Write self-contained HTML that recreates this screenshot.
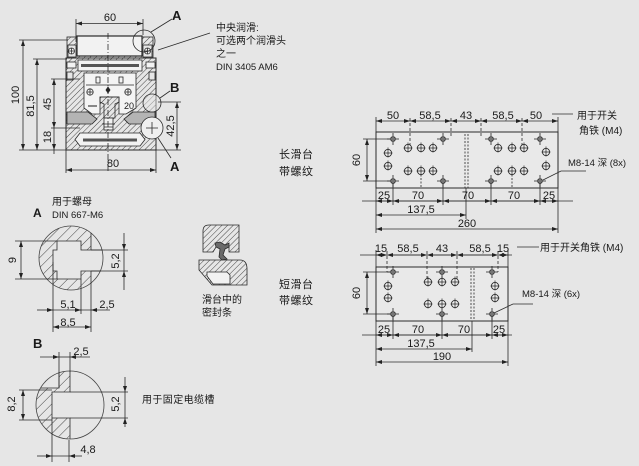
<!DOCTYPE html>
<html><head><meta charset="utf-8"><style>
html,body{margin:0;padding:0;background:#e6e6e6;}
svg{display:block;}
text{font-family:"Liberation Sans","Noto Sans CJK SC",sans-serif;fill:#1a1a1a;}
.d{font-size:11px;}
.c{font-size:10px;}
.b{font-size:13px;font-weight:bold;}
</style></head><body>
<svg width="639" height="466" viewBox="0 0 639 466" xmlns="http://www.w3.org/2000/svg">
<defs>
<pattern id="hf" width="4" height="4" patternUnits="userSpaceOnUse" patternTransform="rotate(45)"><rect width="4" height="4" fill="#e6e6e6"/><line x1="0" y1="0" x2="0" y2="4" stroke="#333" stroke-width="0.9"/></pattern>
<pattern id="hc" width="7" height="7" patternUnits="userSpaceOnUse" patternTransform="rotate(45)"><rect width="7" height="7" fill="#e6e6e6"/><line x1="0" y1="0" x2="0" y2="7" stroke="#333" stroke-width="0.9"/></pattern>
<marker id="ar" viewBox="0 0 6 4" refX="6" refY="2" markerWidth="6" markerHeight="4" markerUnits="userSpaceOnUse" orient="auto-start-reverse"><path d="M0,0L6,2L0,4z" fill="#222"/></marker>
<g id="sh"><circle r="2.4" fill="#777" stroke="#222" stroke-width="0.8"/><path d="M-6,0h3M3,0h3M0,-6v3M0,3v3" stroke="#222" stroke-width="0.8"/></g>
<g id="bh"><circle r="3.6" fill="#efefef" stroke="#222" stroke-width="0.8"/><path d="M-4.5,0h9M0,-5.5v10" stroke="#222" stroke-width="0.7"/></g>
<clipPath id="ca"><circle cx="71" cy="258" r="32"/></clipPath>
<clipPath id="cb"><circle cx="70" cy="405" r="34"/></clipPath>
</defs>
<rect width="639" height="466" fill="#e6e6e6"/>

<!-- ===== MAIN CROSS SECTION ===== -->
<g stroke="#2a2a2a" stroke-width="0.8" fill="none">
<!-- carriage top -->
<rect x="67" y="37" width="86" height="21" fill="url(#hf)"/>
<rect x="77" y="36" width="65" height="20" fill="#f2f2f2" stroke-width="1.2"/>
<rect x="68" y="45" width="8" height="12" fill="#e6e6e6"/>
<rect x="143" y="45" width="9" height="12" fill="#e6e6e6"/>
<circle cx="71.5" cy="51" r="3" fill="#f2f2f2"/><path d="M68.5,51h6M71.5,48v6"/>
<circle cx="147.5" cy="51" r="3" fill="#f2f2f2"/><path d="M144.5,51h6M147.5,48v6"/>
<!-- profile body -->
<rect x="66" y="58" width="90" height="92" fill="url(#hf)"/>
<rect x="78" y="60" width="64" height="11" fill="#f2f2f2"/>
<rect x="81" y="64" width="58" height="3" fill="#555" stroke="none"/>
<rect x="67" y="62" width="9" height="6" fill="#f2f2f2"/>
<rect x="146" y="62" width="9" height="6" fill="#f2f2f2"/>
<rect x="67" y="72" width="6" height="8" fill="#e6e6e6"/>
<rect x="149" y="72" width="6" height="8" fill="#e6e6e6"/>
<!-- carriage body inside -->
<polygon points="84,73 136,73 136,108 126,114 119,114 119,97 100,97 100,114 92,114 84,108" fill="#f4f4f4"/>
<rect x="96" y="77" width="4" height="6" fill="#f4f4f4"/>
<rect x="119" y="77" width="4" height="6" fill="#f4f4f4"/>
<line x1="86" y1="85" x2="134" y2="85"/>
<circle cx="90" cy="92" r="3.2" fill="#f4f4f4"/><path d="M87,92h6M90,89v6"/>
<circle cx="128" cy="92" r="3.2" fill="#f4f4f4"/><path d="M125,92h6M128,89v6"/>
<path d="M108,87l2,3l-2,3l-2,-3z" fill="#222"/>
<text x="124" y="109" style="font-size:9px" stroke="none">20</text>
<rect x="88" y="105" width="9" height="2" fill="#888" stroke="none"/>
<!-- T rail outline -->
<path d="M100,97 L119,97 L119,102 L115,104 L115,118 L104,118 L104,104 L100,102 Z"/>
<!-- gray chambers -->
<polygon points="67,112 88,112 97,119 92,124 67,124" fill="#b4b4b4"/>
<polygon points="155,112 133,112 124,119 129,124 155,124" fill="#b4b4b4"/>
<!-- middle screw -->
<rect x="104" y="118" width="9" height="12" fill="#f2f2f2"/>
<path d="M102,124h13M104,127h9"/>
<!-- bottom slot -->
<polygon points="80,133 140,133 145,139.5 140,146 80,146 75,139.5" fill="#f2f2f2"/>
<rect x="83" y="138.5" width="54" height="3" fill="#555" stroke="none"/>
<!-- outer outline -->
<rect x="66" y="58" width="90" height="92" stroke-width="1"/>
<!-- detail circles -->
<circle cx="144" cy="41" r="11"/>
<circle cx="152" cy="103" r="9" fill="#e6e6e6" fill-opacity="0.5"/>
<circle cx="152" cy="128" r="11" fill="#efefef"/>
<path d="M146,128h12M152,122v12"/>
<!-- leaders -->
<line x1="151" y1="32" x2="172" y2="19"/>
<line x1="158" y1="50" x2="210" y2="33"/>
<line x1="160" y1="98" x2="170" y2="91"/>
<line x1="158" y1="138" x2="171" y2="158"/>
<!-- centre line -->
<line x1="108" y1="33" x2="108" y2="173" stroke-dasharray="6,2,1,2"/>
<!-- extension lines -->
<line x1="76" y1="19" x2="76" y2="42"/>
<line x1="143" y1="19" x2="143" y2="35"/>
<line x1="19" y1="40" x2="68" y2="40"/>
<line x1="19" y1="150" x2="66" y2="150"/>
<line x1="33" y1="59" x2="67" y2="59"/>
<line x1="51" y1="79" x2="80" y2="79"/>
<line x1="51" y1="128" x2="80" y2="128"/>
<line x1="158" y1="102" x2="181" y2="102"/>
<line x1="156" y1="150" x2="181" y2="150"/>
<line x1="66" y1="150" x2="66" y2="173"/>
<line x1="156" y1="150" x2="156" y2="173"/>
<!-- dimension lines -->
<line x1="76" y1="23.5" x2="143" y2="23.5" marker-start="url(#ar)" marker-end="url(#ar)"/>
<line x1="23" y1="40" x2="23" y2="150" marker-start="url(#ar)" marker-end="url(#ar)"/>
<line x1="37" y1="59" x2="37" y2="150" marker-start="url(#ar)" marker-end="url(#ar)"/>
<line x1="54" y1="79" x2="54" y2="128" marker-start="url(#ar)" marker-end="url(#ar)"/>
<line x1="54" y1="128" x2="54" y2="150" marker-end="url(#ar)"/>
<line x1="54" y1="150" x2="54" y2="154"/>
<line x1="177" y1="102" x2="177" y2="150" marker-start="url(#ar)" marker-end="url(#ar)"/>
<line x1="66" y1="170" x2="156" y2="170" marker-start="url(#ar)" marker-end="url(#ar)"/>
</g>
<text class="d" x="110" y="21" text-anchor="middle">60</text>
<text class="d" x="113" y="167" text-anchor="middle">80</text>
<text class="d" transform="translate(16,95) rotate(-90)" text-anchor="middle" dominant-baseline="central">100</text>
<text class="d" transform="translate(31,106) rotate(-90)" text-anchor="middle" dominant-baseline="central">81,5</text>
<text class="d" transform="translate(48,104) rotate(-90)" text-anchor="middle" dominant-baseline="central">45</text>
<text class="d" transform="translate(48,137) rotate(-90)" text-anchor="middle" dominant-baseline="central">18</text>
<text class="d" transform="translate(171,126) rotate(-90)" text-anchor="middle" dominant-baseline="central">42,5</text>
<text class="b" x="172" y="20">A</text>
<text class="b" x="170" y="92">B</text>
<text class="b" x="170" y="171">A</text>
<text class="c" x="216" y="31">中央润滑:</text>
<text class="c" x="216" y="44">可选两个润滑头</text>
<text class="c" x="216" y="57">之一</text>
<text class="c" x="216" y="70" style="font-size:9.5px">DIN 3405 AM6</text>

<!-- ===== LONG PLATE ===== -->
<text class="c" x="279" y="158" style="font-size:11px;letter-spacing:0.5px">长滑台</text>
<text class="c" x="279" y="175" style="font-size:11px;letter-spacing:0.5px">带螺纹</text>
<g stroke="#2a2a2a" stroke-width="0.8" fill="none">
<rect x="376" y="132" width="182" height="56" fill="#e9e9e9" stroke-width="1"/>
<!-- top ext + dims -->
<line x1="376" y1="117" x2="376" y2="132"/>
<line x1="558" y1="117" x2="558" y2="132"/>
<line x1="410" y1="118" x2="410" y2="146" stroke-dasharray="3,2"/>
<line x1="451" y1="118" x2="451" y2="136" stroke-dasharray="3,2"/>
<line x1="481" y1="118" x2="481" y2="136" stroke-dasharray="3,2"/>
<line x1="522" y1="118" x2="522" y2="146" stroke-dasharray="3,2"/>
<line x1="376" y1="121" x2="410" y2="121" marker-start="url(#ar)" marker-end="url(#ar)"/>
<line x1="410" y1="121" x2="451" y2="121" marker-start="url(#ar)" marker-end="url(#ar)"/>
<line x1="451" y1="121" x2="481" y2="121" marker-start="url(#ar)" marker-end="url(#ar)"/>
<line x1="481" y1="121" x2="522" y2="121" marker-start="url(#ar)" marker-end="url(#ar)"/>
<line x1="522" y1="121" x2="558" y2="121" marker-start="url(#ar)" marker-end="url(#ar)"/>
<line x1="552" y1="114" x2="573" y2="114"/>
<!-- centre dashed -->
<line x1="465" y1="134" x2="465" y2="188" stroke-dasharray="2,1.5"/>
<line x1="468" y1="134" x2="468" y2="188" stroke-dasharray="2,1.5"/>
<!-- 60 vertical -->
<line x1="363" y1="139" x2="390" y2="139"/>
<line x1="363" y1="181" x2="390" y2="181"/>
<line x1="367" y1="139" x2="367" y2="181" marker-start="url(#ar)" marker-end="url(#ar)"/>
<!-- bottom ext -->
<line x1="376" y1="188" x2="376" y2="233"/>
<line x1="558" y1="188" x2="558" y2="233"/>
<line x1="393" y1="181" x2="393" y2="205"/>
<line x1="443" y1="181" x2="443" y2="205"/>
<line x1="491" y1="181" x2="491" y2="205"/>
<line x1="540" y1="181" x2="540" y2="205"/>
<line x1="466" y1="188" x2="466" y2="219"/>
<line x1="421" y1="171" x2="421" y2="188" stroke-dasharray="2,1.5"/>
<line x1="512" y1="171" x2="512" y2="188" stroke-dasharray="2,1.5"/>
<line x1="362" y1="201" x2="573" y2="201"/>
<line x1="376" y1="201" x2="393" y2="201" marker-start="url(#ar)" marker-end="url(#ar)"/>
<line x1="393" y1="201" x2="443" y2="201" marker-start="url(#ar)" marker-end="url(#ar)"/>
<line x1="443" y1="201" x2="491" y2="201" marker-start="url(#ar)" marker-end="url(#ar)"/>
<line x1="491" y1="201" x2="540" y2="201" marker-start="url(#ar)" marker-end="url(#ar)"/>
<line x1="540" y1="201" x2="558" y2="201" marker-start="url(#ar)" marker-end="url(#ar)"/>
<line x1="376" y1="215" x2="466" y2="215" marker-start="url(#ar)" marker-end="url(#ar)"/>
<line x1="376" y1="229" x2="558" y2="229" marker-start="url(#ar)" marker-end="url(#ar)"/>
<!-- leader M8 -->
<polyline points="543,180 561,171 586,171"/>
</g>
<use href="#sh" x="393" y="139"/><use href="#sh" x="393" y="181"/>
<use href="#sh" x="443" y="139"/><use href="#sh" x="443" y="181"/>
<use href="#sh" x="491" y="139"/><use href="#sh" x="491" y="181"/>
<use href="#sh" x="540" y="139"/><use href="#sh" x="540" y="181"/>
<use href="#bh" x="388" y="153"/><use href="#bh" x="388" y="166"/>
<use href="#bh" x="408" y="148"/><use href="#bh" x="421" y="148"/><use href="#bh" x="433" y="148"/>
<use href="#bh" x="408" y="171"/><use href="#bh" x="421" y="171"/><use href="#bh" x="433" y="171"/>
<use href="#bh" x="498" y="148"/><use href="#bh" x="512" y="148"/><use href="#bh" x="524" y="148"/>
<use href="#bh" x="498" y="171"/><use href="#bh" x="512" y="171"/><use href="#bh" x="524" y="171"/>
<use href="#bh" x="546" y="152"/><use href="#bh" x="546" y="166"/>
<text class="d" x="393" y="119" text-anchor="middle">50</text>
<text class="d" x="430" y="119" text-anchor="middle">58,5</text>
<text class="d" x="466" y="119" text-anchor="middle">43</text>
<text class="d" x="503" y="119" text-anchor="middle">58,5</text>
<text class="d" x="536" y="119" text-anchor="middle">50</text>
<text class="d" x="384" y="199" text-anchor="middle">25</text>
<text class="d" x="418" y="199" text-anchor="middle">70</text>
<text class="d" x="468" y="199" text-anchor="middle">70</text>
<text class="d" x="514" y="199" text-anchor="middle">70</text>
<text class="d" x="549" y="199" text-anchor="middle">25</text>
<text class="d" x="421" y="213" text-anchor="middle">137,5</text>
<text class="d" x="467" y="227" text-anchor="middle">260</text>
<text class="d" transform="translate(357,160) rotate(-90)" text-anchor="middle" dominant-baseline="central">60</text>
<text class="c" x="577" y="119">用于开关</text>
<text class="c" x="579" y="134">角铁 (M4)</text>
<text class="c" x="568" y="166" style="font-size:9.5px">M8-14 深 (8x)</text>

<!-- ===== SHORT PLATE ===== -->
<text class="c" x="279" y="288" style="font-size:11px;letter-spacing:0.5px">短滑台</text>
<text class="c" x="279" y="304" style="font-size:11px;letter-spacing:0.5px">带螺纹</text>
<g stroke="#2a2a2a" stroke-width="0.8" fill="none">
<rect x="376" y="267" width="132" height="54" fill="#e9e9e9" stroke-width="1"/>
<line x1="376" y1="250" x2="376" y2="267"/>
<line x1="508" y1="250" x2="508" y2="267"/>
<line x1="387" y1="251" x2="387" y2="272" stroke-dasharray="3,2"/>
<line x1="427" y1="251" x2="427" y2="282" stroke-dasharray="3,2"/>
<line x1="457" y1="251" x2="457" y2="282" stroke-dasharray="3,2"/>
<line x1="498" y1="251" x2="498" y2="272" stroke-dasharray="3,2"/>
<line x1="360" y1="255" x2="512" y2="255"/>
<line x1="376" y1="255" x2="387" y2="255" marker-start="url(#ar)" marker-end="url(#ar)"/>
<line x1="387" y1="255" x2="427" y2="255" marker-start="url(#ar)" marker-end="url(#ar)"/>
<line x1="427" y1="255" x2="457" y2="255" marker-start="url(#ar)" marker-end="url(#ar)"/>
<line x1="457" y1="255" x2="498" y2="255" marker-start="url(#ar)" marker-end="url(#ar)"/>
<line x1="498" y1="255" x2="508" y2="255" marker-start="url(#ar)" marker-end="url(#ar)"/>
<line x1="517" y1="247" x2="539" y2="247"/>
<line x1="471" y1="268" x2="471" y2="321" stroke-dasharray="2,1.5"/>
<line x1="474" y1="268" x2="474" y2="321" stroke-dasharray="2,1.5"/>
<line x1="363" y1="272" x2="390" y2="272"/>
<line x1="363" y1="314" x2="390" y2="314"/>
<line x1="367" y1="272" x2="367" y2="314" marker-start="url(#ar)" marker-end="url(#ar)"/>
<line x1="376" y1="321" x2="376" y2="366"/>
<line x1="508" y1="321" x2="508" y2="366"/>
<line x1="393" y1="314" x2="393" y2="339"/>
<line x1="442" y1="314" x2="442" y2="339"/>
<line x1="492" y1="314" x2="492" y2="339"/>
<line x1="472" y1="321" x2="472" y2="352"/>
<line x1="362" y1="335" x2="512" y2="335"/>
<line x1="376" y1="335" x2="393" y2="335" marker-start="url(#ar)" marker-end="url(#ar)"/>
<line x1="393" y1="335" x2="442" y2="335" marker-start="url(#ar)" marker-end="url(#ar)"/>
<line x1="442" y1="335" x2="492" y2="335" marker-start="url(#ar)" marker-end="url(#ar)"/>
<line x1="492" y1="335" x2="508" y2="335" marker-start="url(#ar)" marker-end="url(#ar)"/>
<line x1="376" y1="349" x2="472" y2="349" marker-start="url(#ar)" marker-end="url(#ar)"/>
<line x1="376" y1="362" x2="508" y2="362" marker-start="url(#ar)" marker-end="url(#ar)"/>
<polyline points="494,313 513,304 533,304"/>
</g>
<use href="#sh" x="393" y="272"/><use href="#sh" x="393" y="314"/>
<use href="#sh" x="442" y="272"/><use href="#sh" x="442" y="314"/>
<use href="#sh" x="492" y="272"/><use href="#sh" x="492" y="314"/>
<use href="#bh" x="388" y="286"/><use href="#bh" x="388" y="298"/>
<use href="#bh" x="428" y="282"/><use href="#bh" x="442" y="282"/><use href="#bh" x="455" y="282"/>
<use href="#bh" x="428" y="304"/><use href="#bh" x="442" y="304"/><use href="#bh" x="455" y="304"/>
<use href="#bh" x="495" y="286"/><use href="#bh" x="495" y="298"/>
<text class="d" x="381" y="252" text-anchor="middle">15</text>
<text class="d" x="408" y="252" text-anchor="middle">58,5</text>
<text class="d" x="442" y="252" text-anchor="middle">43</text>
<text class="d" x="480" y="252" text-anchor="middle">58,5</text>
<text class="d" x="503" y="252" text-anchor="middle">15</text>
<text class="d" x="384" y="333" text-anchor="middle">25</text>
<text class="d" x="418" y="333" text-anchor="middle">70</text>
<text class="d" x="464" y="333" text-anchor="middle">70</text>
<text class="d" x="499" y="333" text-anchor="middle">25</text>
<text class="d" x="421" y="347" text-anchor="middle">137,5</text>
<text class="d" x="442" y="360" text-anchor="middle">190</text>
<text class="d" transform="translate(357,293) rotate(-90)" text-anchor="middle" dominant-baseline="central">60</text>
<text class="c" x="540" y="251">用于开关角铁 (M4)</text>
<text class="c" x="522" y="297" style="font-size:9.5px">M8-14 深 (6x)</text>

<!-- ===== SEAL DETAIL ===== -->
<g stroke="#2a2a2a" stroke-width="0.8">
<path d="M203,231 Q203,225 209,225 L239,225 L239,252 L229,252 L229,247 L216,247 L213,252 L203,252 Z" fill="url(#hf)"/>
<path d="M199,260 L240,260 Q247,260 247,269 L247,285 L212,285 L199,270 Z" fill="url(#hf)"/>
<polygon points="207,272 227,272 230,275 230,284 213,284 207,276" fill="#f2f2f2"/>
<polygon points="215,243 220,242 225,245 229,243 229,247 225,249 223,255 227,259 222,260 219,257 220,249 216,247" fill="#6a6a6a"/>
</g>
<text class="c" x="202" y="303">滑台中的</text>
<text class="c" x="202" y="316">密封条</text>

<!-- ===== DETAIL A ===== -->
<text class="b" x="33" y="217" style="font-size:12px">A</text>
<text class="c" x="52" y="205">用于螺母</text>
<text class="c" x="52" y="218" style="font-size:9.5px">DIN 667-M6</text>
<g stroke="#2a2a2a" stroke-width="0.8" fill="none">
<g clip-path="url(#ca)">
<rect x="30" y="220" width="61" height="80" fill="url(#hc)" stroke="none"/>
<polygon points="57,241 81,241 81,250 105,250 105,271 81,271 81,279 57,279 57,271 53,271 53,250 57,250" fill="#e6e6e6"/>
</g>
<circle cx="71" cy="258" r="32" stroke="#444"/>
<line x1="91" y1="233" x2="91" y2="250"/>
<line x1="91" y1="271" x2="91" y2="283"/>
<!-- 9 -->
<line x1="15" y1="241" x2="57" y2="241"/>
<line x1="15" y1="279" x2="57" y2="279"/>
<line x1="21" y1="241" x2="21" y2="279" marker-start="url(#ar)" marker-end="url(#ar)"/>
<!-- 5,2 -->
<line x1="91" y1="250" x2="128" y2="250"/>
<line x1="91" y1="271" x2="128" y2="271"/>
<line x1="124" y1="233" x2="124" y2="250" marker-end="url(#ar)"/>
<line x1="124" y1="290" x2="124" y2="271" marker-end="url(#ar)"/>
<line x1="124" y1="250" x2="124" y2="271"/>
<!-- horizontal dims -->
<line x1="53" y1="262" x2="53" y2="332"/>
<line x1="81" y1="279" x2="81" y2="314"/>
<line x1="91" y1="283" x2="91" y2="332"/>
<line x1="37" y1="310" x2="53" y2="310" marker-end="url(#ar)"/>
<line x1="53" y1="310" x2="91" y2="310"/>
<line x1="110" y1="310" x2="91" y2="310" marker-end="url(#ar)"/>
<line x1="75" y1="310" x2="81" y2="310" marker-end="url(#ar)"/>
<line x1="53" y1="327" x2="91" y2="327" marker-start="url(#ar)" marker-end="url(#ar)"/>
</g>
<text class="d" transform="translate(13,260) rotate(-90)" text-anchor="middle" dominant-baseline="central">9</text>
<text class="d" transform="translate(116,261) rotate(-90)" text-anchor="middle" dominant-baseline="central">5,2</text>
<text class="d" x="68" y="308" text-anchor="middle">5,1</text>
<text class="d" x="107" y="308" text-anchor="middle">2,5</text>
<text class="d" x="68" y="326" text-anchor="middle">8,5</text>

<!-- ===== DETAIL B ===== -->
<text class="b" x="33" y="348">B</text>
<g stroke="#2a2a2a" stroke-width="0.8" fill="none">
<g clip-path="url(#cb)">
<path d="M59,368 L70,368 L70,392 L52,392 L52,418 L70,418 L70,442 L34,442 L34,388 L59,388 Z" fill="url(#hc)"/>
</g>
<circle cx="70" cy="405" r="34" stroke="#444"/>
<!-- 2,5 -->
<line x1="59" y1="352" x2="59" y2="388"/>
<line x1="70" y1="352" x2="70" y2="372"/>
<line x1="40" y1="357" x2="59" y2="357" marker-end="url(#ar)"/>
<line x1="59" y1="357" x2="70" y2="357"/>
<line x1="90" y1="357" x2="70" y2="357" marker-end="url(#ar)"/>
<!-- 8,2 -->
<line x1="19" y1="390" x2="52" y2="390"/>
<line x1="19" y1="420" x2="52" y2="420"/>
<line x1="23" y1="390" x2="23" y2="420" marker-start="url(#ar)" marker-end="url(#ar)"/>
<!-- 5,2 -->
<line x1="70" y1="392" x2="128" y2="392"/>
<line x1="70" y1="418" x2="128" y2="418"/>
<line x1="125" y1="377" x2="125" y2="392" marker-end="url(#ar)"/>
<line x1="125" y1="427" x2="125" y2="418" marker-end="url(#ar)"/>
<line x1="125" y1="392" x2="125" y2="418"/>
<!-- 4,8 -->
<line x1="52" y1="418" x2="52" y2="462"/>
<line x1="69" y1="440" x2="69" y2="462"/>
<line x1="37" y1="456" x2="52" y2="456" marker-end="url(#ar)"/>
<line x1="52" y1="456" x2="69" y2="456"/>
<line x1="82" y1="456" x2="69" y2="456" marker-end="url(#ar)"/>
</g>
<text class="d" x="81" y="355" text-anchor="middle">2,5</text>
<text class="d" transform="translate(12,404) rotate(-90)" text-anchor="middle" dominant-baseline="central">8,2</text>
<text class="d" transform="translate(116,404) rotate(-90)" text-anchor="middle" dominant-baseline="central">5,2</text>
<text class="d" x="88" y="453" text-anchor="middle">4,8</text>
<text class="c" x="142" y="403" style="letter-spacing:0.4px">用于固定电缆槽</text>
</svg>
</body></html>
